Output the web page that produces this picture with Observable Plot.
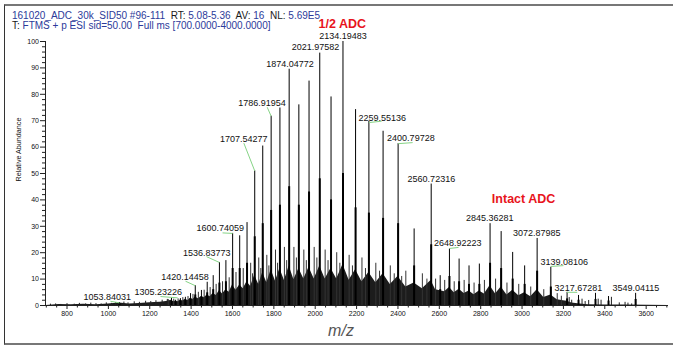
<!DOCTYPE html>
<html><head><meta charset="utf-8">
<script src="https://cdn.jsdelivr.net/npm/d3@7"></script>
<script src="https://cdn.jsdelivr.net/npm/@observablehq/plot@0.6"></script>
<style>
body{margin:0;background:#fff;font-family:"Liberation Sans",Arial,sans-serif;}
#wrap{position:relative;width:673px;height:346px;overflow:hidden;background:#fff;}
#chart{position:absolute;left:0;top:0;}
#frame{position:absolute;left:4px;top:4px;width:690px;height:337px;border-left:1px solid #333;border-top:2px solid #777;border-bottom:2px solid #777;pointer-events:none;}
#hdr{position:absolute;left:12px;top:10.5px;font-size:10px;line-height:10px;color:#2b3a9a;white-space:pre;}
#hdr .k{color:#1a1a1a;}
</style></head><body>
<div id="wrap"><div id="chart"></div>
<div id="hdr">161020_ADC_30k_SID50 #96-111  <span class="k">RT:</span> 5.08-5.36  <span class="k">AV:</span> 16  <span class="k">NL:</span> 5.69E5
<span class="k">T:</span> FTMS + p ESI sid=50.00  Full ms [700.0000-4000.0000]</div>
<div id="frame"></div></div>
<script>
// ---- data ----
const peakMz = [1053.84, 1305.23, 1325.0, 1348.3, 1372.3, 1397.2, 1420.14, 1449.9, 1477.8, 1506.8, 1536.84, 1568.2, 1600.74, 1634.9, 1670.4, 1707.54, 1746.3, 1786.92, 1829.4, 1874.05, 1920.9, 1970.1, 2021.98, 2076.5, 2134.19, 2195.1, 2259.55, 2328.1, 2400.80, 2478.2, 2560.72, 2604.2, 2648.92, 2695.6, 2743.6, 2793.5, 2845.36, 2898.9, 2954.6, 3012.5, 3072.88, 3139.08, 3217.67, 3273, 3355, 3418, 3549.04];
const peakInt = [1.1, 2.8, 2.0, 2.6, 3.1, 4.5, 7.5, 5.7, 8.8, 11.3, 16.3, 17.0, 27.3, 26.4, 31.4, 51.0, 60.4, 71.7, 74.8, 89.5, 76.0, 85.0, 95.6, 79.0, 100, 74.2, 69.8, 66.0, 61.3, 29.0, 46.0, 11.3, 21.4, 17.6, 15.0, 15.7, 31.0, 28.0, 20.1, 15.0, 25.4, 14.5, 5.0, 3.8, 4.6, 3.4, 4.6];
const peakCore = [0.6, 1.6, 1.2, 1.5, 1.8, 2.6, 4.0, 3.2, 4.8, 6.0, 8.5, 9.0, 14, 14, 16, 26, 31, 36, 38, 45, 38, 43, 48, 40, 50, 37, 35, 33, 31, 15, 23, 6, 11, 9, 8, 8, 16, 14, 10, 8, 13, 7, 2.5, 2, 2.3, 1.7, 2.3];

// dense low-level envelope under the peaks: [m/z, relative abundance]
const floorPts = [[700, 0], [760, 0.4], [820, 0.3], [880, 0.5], [940, 0.3], [1000, 0.6], [1053, 0.9], [1100, 0.6], [1150, 0.8], [1200, 1.0], [1250, 1.2], [1280, 1.5], [1305, 2.0], [1315, 1.4], [1325, 1.7], [1337, 1.4], [1348, 2.1], [1360, 1.7], [1372, 2.4], [1385, 1.9], [1397, 2.7], [1408, 2.2], [1420, 3.2], [1435, 2.6], [1450, 3.4], [1463, 2.9], [1478, 4.0], [1492, 3.3], [1507, 4.6], [1521, 3.8], [1537, 5.6], [1552, 4.4], [1568, 6.0], [1584, 5.0], [1600, 7.8], [1617, 5.8], [1635, 7.8], [1652, 6.3], [1670, 9.0], [1688, 7.2], [1707, 11.5], [1727, 8.0], [1746, 12.5], [1766, 8.6], [1787, 13.5], [1808, 9.2], [1829, 14], [1851, 9.5], [1874, 15], [1897, 9.8], [1921, 14], [1945, 10], [1970, 14.5], [1995, 10], [2022, 15], [2048, 10], [2076, 14], [2104, 10], [2134, 15.5], [2164, 9.6], [2195, 13.5], [2226, 9], [2259, 12.5], [2293, 8.6], [2328, 12], [2363, 8], [2400, 11], [2438, 7], [2478, 8.5], [2518, 6.3], [2560, 9.5], [2582, 6], [2604, 5.6], [2626, 5.2], [2649, 6.8], [2672, 4.8], [2696, 6.2], [2720, 4.5], [2744, 5.5], [2768, 4.1], [2793, 5.5], [2818, 4.4], [2845, 7.5], [2872, 4.4], [2899, 7], [2927, 4], [2955, 5.8], [2984, 3.7], [3012, 4.8], [3042, 3.3], [3073, 6], [3105, 3], [3139, 4], [3170, 2.2], [3200, 1.8], [3218, 1.6], [3240, 0.9], [3280, 0.6], [3320, 0.3], [3400, 0.2], [3500, 0.15], [3708, 0]];

// smaller peaks between the main charge states: [m/z, relative abundance]
const spikePts = [[1290, 2.2], [1316, 2.4], [1337, 2.5], [1360, 3.0], [1385, 3.4], [1409, 4.2], [1435, 5.0], [1463, 5.8], [1492, 6.8], [1521, 8.0], [1552, 9.0], [1584, 10.5], [1617, 12.5], [1652, 14.0], [1688, 16.0], [1697, 12], [1727, 18.0], [1737, 14], [1766, 19.0], [1776, 15], [1808, 21.0], [1818, 16], [1851, 22.0], [1862, 17], [1897, 22.0], [1909, 18], [1945, 21.0], [1957, 17], [1995, 22.0], [2008, 18], [2048, 21.0], [2062, 17], [2104, 20.0], [2119, 16], [2164, 19.0], [2180, 15], [2226, 18.0], [2243, 14], [2293, 16.0], [2311, 13], [2363, 15.0], [2382, 12], [2418, 11], [2438, 13.0], [2518, 12.0], [2540, 10], [2582, 10.0], [2626, 9.5], [2672, 9.0], [2720, 9.5], [2768, 8.5], [2818, 9.5], [2872, 10.0], [2927, 8.5], [2984, 8.0], [3042, 7.0], [3105, 6.0], [3170, 4.5], [3190, 3.5]];

const minorMz = [720, 745, 770, 800, 835, 860, 890, 915, 940, 965, 990, 1015, 1035, 1075, 1095, 1125, 1150, 1180, 1205, 1230, 1260, 1285, 3228, 3240, 3290, 3305, 3322, 3368, 3382, 3432, 3470, 3498, 3512, 3530];
const minorInt = [0.5, 0.6, 0.4, 0.7, 0.5, 0.8, 0.6, 0.9, 0.7, 0.6, 1.0, 0.8, 1.1, 1.3, 1.0, 1.4, 1.2, 1.6, 1.5, 1.8, 2.0, 2.3, 3.0, 2.0, 2.4, 1.5, 1.9, 2.4, 2.0, 3.1, 1.0, 1.2, 0.9, 0.6];

const labelText = ["1053.84031", "1305.23226", "1420.14458", "1536.83773", "1600.74059", "1707.54277", "1786.91954", "1874.04772", "2021.97582", "2134.19483", "2259.55136", "2400.79728", "2560.72316", "2648.92223", "2845.36281", "3072.87985", "3139.08106", "3217.67281", "3549.04115"];

const xTicks = [800, 1000, 1200, 1400, 1600, 1800, 2000, 2200, 2400, 2600, 2800, 3000, 3200, 3400, 3600];
const yTicks = [0, 10, 20, 30, 40, 50, 60, 70, 80, 90, 100];

// ---- annotation layout (label anchor mz/int, optional leader start -> end) ----
const labelLayout = [
  [994.4, 3.1, 1010, 1.6, 1053.84, 1.0],
  [1241.5, 5.0, 1252, 3.4, 1335, 2.9],
  [1370.6, 10.9, 1373, 9.2, 1420.14, 7.5],
  [1476, 19.9, 1474.5, 18.5, 1536.84, 16.3],
  [1540.8, 29.5, 1551.9, 27.5, 1600.74, 27.3],
  [1654.9, 63.1, 1654.9, 61.5, 1707.54, 51],
  [1742.9, 76.7, 1768, 75.1, 1786.92, 71.7],
  [1878.3, 91.4],
  [2001.6, 97.8],
  [2134.6, 101.9],
  [2324, 71.1, 2321, 69.8, 2259.55, 69.3],
  [2462.5, 63.5, 2471, 61.7, 2400.8, 61.3],
  [2561.6, 47.8],
  [2689.2, 23.5, 2693, 22.0, 2648.92, 21.6],
  [2844, 33.1],
  [3071.2, 27.4],
  [3204.2, 16.3, 3200, 15.1, 3139.08, 14.8],
  [3272.4, 6.7, 3267, 5.0, 3217.67, 5.0],
  [3550.4, 6.7]
];
const xDomain = [696, 3708];
const yDomain = [0, 100];

const peaks = peakMz.map((m, i) => ({m, v: peakInt[i], c: peakCore[i]}));
const floor = floorPts.map(([m, v]) => ({m, v}));
const spikes = spikePts.map(([m, v]) => ({m, v}));
const minor = minorMz.map((m, i) => ({m, v: minorInt[i]}));
const labels = labelText.map((t, i) => ({t, lx: labelLayout[i][0], ly: labelLayout[i][1]}));
const leaders = labelLayout.filter(d => d.length > 2).map(d => ({x1: d[2], y1: d[3], x2: d[4], y2: d[5]}));
const xMinor = d3.range(700, 3701, 50).filter(v => v % 200 !== 0);
const yMinor = d3.range(0, 101, 2).filter(v => v % 10 !== 0);
const font = "Liberation Sans, Arial, sans-serif";

const chart = Plot.plot({
  width: 673, height: 346,
  marginLeft: 45, marginRight: 5, marginTop: 41, marginBottom: 41,
  style: {fontFamily: font, background: "transparent", overflow: "visible", color: "#111"},
  x: {domain: xDomain},
  y: {domain: yDomain},
  marks: [
    Plot.areaY(floor, {x: "m", y: "v", fill: "#1c1c1c", curve: "linear"}),
    Plot.ruleX(spikes, {x: "m", y1: 0, y2: "v", stroke: "#333", strokeWidth: 1}),
    Plot.ruleX(minor, {x: "m", y1: 0, y2: "v", stroke: "#222", strokeWidth: 1}),
    Plot.ruleX(peaks, {x: "m", y1: 0, y2: "v", stroke: "#000", strokeWidth: 1}),
    Plot.ruleX(peaks, {x: "m", y1: 0, y2: "c", stroke: "#000", strokeWidth: 2}),
    Plot.ruleY([yDomain[0]], {stroke: "#222"}),
    Plot.ruleX([xDomain[0]], {stroke: "#222"}),
    Plot.axisX({ticks: xTicks, tickFormat: d => String(d), tickSize: 4, tickPadding: 2, fontSize: 7, label: null, stroke: "#222", fill: "#111"}),
    Plot.axisX({ticks: xMinor, tickSize: 2.5, text: null, label: null, stroke: "#222"}),
    Plot.axisY({ticks: yTicks, tickFormat: d => String(d), tickSize: 5, tickPadding: 1.5, fontSize: 7, label: null, stroke: "#222", fill: "#111"}),
    Plot.axisY({ticks: yMinor, tickSize: 3, text: null, label: null, stroke: "#222"}),
    Plot.link(leaders, {x1: "x1", y1: "y1", x2: "x2", y2: "y2", stroke: "#86d486", strokeWidth: 1}),
    Plot.text(labels, {x: "lx", y: "ly", text: "t", fontSize: 9, fill: "#111", textAnchor: "middle"}),
    Plot.text(["1/2 ADC"], {x: 2130.7, y: 106.5, fontSize: 12.5, fontWeight: "bold", fill: "#e8141c"}),
    Plot.text(["Intact ADC"], {x: 3007.4, y: 40.3, fontSize: 12.5, fontWeight: "bold", fill: "#e8141c"}),
    Plot.text(["m/z"], {frameAnchor: "bottom", dx: -16, dy: 30, fontSize: 16, fontStyle: "italic", fill: "#555"}),
    Plot.text(["Relative Abundance"], {frameAnchor: "left", dx: -26.5, dy: 8, rotate: -90, fontSize: 7.2, fill: "#111"})
  ]
});
document.getElementById("chart").appendChild(chart);
</script>
</body></html>
